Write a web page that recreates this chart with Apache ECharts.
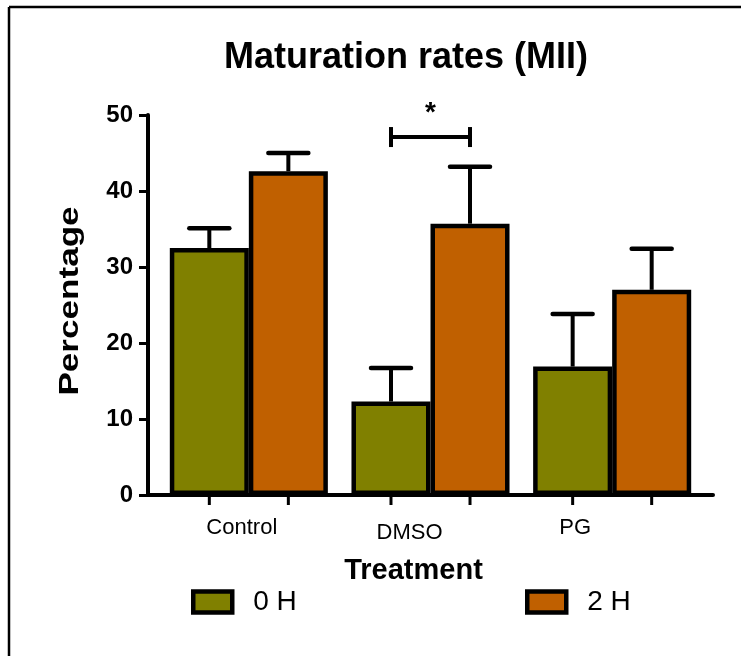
<!DOCTYPE html>
<html>
<head>
    <meta http-equiv="Content-Type" content="text/html; charset=UTF-8" />
    <title>Maturation rates</title>
    <script src="https://cdn.jsdelivr.net/npm/echarts@6/dist/echarts.min.js"></script>
    <style>
        html, body { margin: 0; padding: 0; background: #fff; }
        #main { width: 741px; height: 656px; }
    </style>
</head>
<body>
<div id="main"></div>
<script type="text/javascript">
    // data
    var categories = ['Control', 'DMSO', 'PG'];
    var mean0h = [32.5, 12.3, 16.9];
    var sem0h = [2.6, 4.4, 6.9];
    var mean2h = [42.6, 35.7, 27.0];
    var sem2h = [2.4, 7.5, 5.4];
    var yTicks = [0, 10, 20, 30, 40, 50];
    // significance bracket: category index, height, label
    var sigCategory = [1];
    var sigLevel = [47.1];
    var sigLabel = ['*'];

    var catGap = 0.13;
    var font = 'Liberation Sans, Arial, sans-serif';

    var errData = [];
    for (var i = 0; i < categories.length; i++) {
        errData.push([i, mean0h[i], sem0h[i], 0]);
        errData.push([i, mean2h[i], sem2h[i], 1]);
    }

    function barWidth(api) {
        return api.size([1, 0])[0] * (1 - catGap) / 2;
    }

    function renderErr(params, api) {
        var idx = api.value(0);
        var bw = barWidth(api);
        var c = api.coord([idx, api.value(1)]);
        var x = c[0] + (api.value(3) === 0 ? -bw / 2 : bw / 2);
        var yTop = api.coord([idx, api.value(1) + api.value(2)])[1];
        var y0 = api.coord([idx, 0])[1];
        var st = { stroke: '#000', lineWidth: 4 };
        return {
            type: 'group',
            children: [
                { type: 'line', shape: { x1: x, y1: c[1], x2: x, y2: yTop }, style: st },
                { type: 'line', shape: { x1: x - 20, y1: yTop, x2: x + 20, y2: yTop }, style: { stroke: '#000', lineWidth: 4.5, lineCap: 'round' } },
                { type: 'line', shape: { x1: x, y1: y0, x2: x, y2: y0 + 10 }, style: { stroke: '#000', lineWidth: 3 } }
            ]
        };
    }

    function renderSig(params, api) {
        var idx = api.value(0);
        var bw = barWidth(api);
        var c = api.coord([idx, api.value(1)]);
        var xa = c[0] - bw / 2, xb = c[0] + bw / 2;
        var st = { stroke: '#000', lineWidth: 4 };
        return {
            type: 'group',
            children: [
                { type: 'line', shape: { x1: xa, y1: c[1], x2: xb, y2: c[1] }, style: st },
                { type: 'line', shape: { x1: xa, y1: c[1] - 10, x2: xa, y2: c[1] + 10 }, style: st },
                { type: 'line', shape: { x1: xb, y1: c[1] - 10, x2: xb, y2: c[1] + 10 }, style: st },
                { type: 'text', x: c[0], y: c[1] - 24, style: {
                    text: sigLabel[params.dataIndex], fill: '#000', font: 'bold 28px ' + font,
                    textAlign: 'center', textVerticalAlign: 'middle' } }
            ]
        };
    }

    var myChart = echarts.init(document.getElementById('main'));

    var legendText = { fontFamily: font, fontSize: 28, color: '#000', padding: [0, 0, 0, 16] };

    var option = {
        backgroundColor: '#fff',
        animation: false,
        title: {
            text: 'Maturation rates (MII)',
            left: 401, top: 35,
            textAlign: 'center',
            textStyle: { fontFamily: font, fontWeight: 'bold', fontSize: 36, color: '#000' }
        },
        legend: [
            {
                data: ['0 H'], left: 191, top: 588, padding: 0, icon: 'rect',
                itemWidth: 39, itemHeight: 21,
                itemStyle: { borderColor: '#000', borderWidth: 4.5 },
                textStyle: legendText
            },
            {
                data: ['2 H'], left: 525, top: 588, padding: 0, icon: 'rect',
                itemWidth: 39, itemHeight: 21,
                itemStyle: { borderColor: '#000', borderWidth: 4.5 },
                textStyle: legendText
            }
        ],
        grid: [
            { left: 158, right: 38, top: 115, bottom: 161 },
            { left: 148, right: 28, top: 115, bottom: 161 }
        ],
        xAxis: [
            {
                type: 'category', gridIndex: 0,
                data: [
                    { value: categories[0], textStyle: { padding: [0, 14, 0, 0] } },
                    { value: categories[1], textStyle: { padding: [5, 42, 0, 0] } },
                    { value: categories[2], textStyle: { padding: [0, 74, 0, 0] } }
                ],
                axisLine: { show: false },
                axisTick: { show: false },
                axisLabel: { margin: 22, fontFamily: font, fontSize: 22, color: '#000' },
                name: 'Treatment', nameLocation: 'middle', nameGap: 61,
                nameTextStyle: { fontFamily: font, fontWeight: 'bold', fontSize: 29, color: '#000', padding: [0, 34, 0, 0] }
            },
            {
                type: 'value', gridIndex: 1, min: 0, max: 1,
                axisLine: { show: true, lineStyle: { color: '#000', width: 4 } },
                axisTick: { show: false }, axisLabel: { show: false }, splitLine: { show: false }
            }
        ],
        yAxis: [
            {
                type: 'value', gridIndex: 0, min: 0, max: 50, interval: 10, offset: 10,
                axisLine: { show: true, lineStyle: { color: '#000', width: 4 } },
                axisTick: { show: true, length: 9, lineStyle: { color: '#000', width: 3 } },
                axisLabel: {
                    margin: 15, fontFamily: font, fontWeight: 'bold', fontSize: 24, color: '#000',
                    padding: [4, 0, 0, 0],
                    formatter: function (v) { return yTicks.indexOf(v) >= 0 ? String(v) : ''; }
                },
                splitLine: { show: false }
            },
            { type: 'value', gridIndex: 1, show: false }
        ],
        graphic: [
            { type: 'line', shape: { x1: 9, y1: 7, x2: 741, y2: 7 }, style: { stroke: '#000', lineWidth: 2.5 } },
            { type: 'line', shape: { x1: 9, y1: 7, x2: 9, y2: 656 }, style: { stroke: '#000', lineWidth: 2.5 } },
            {
                type: 'text', x: 71, y: 301, rotation: Math.PI / 2, scaleX: 1.3,
                style: { text: 'Percentage', font: 'bold 27px ' + font, fill: '#000', textAlign: 'center', textVerticalAlign: 'middle' }
            }
        ],
        series: [
            {
                name: '0 H', type: 'bar', data: mean0h,
                barGap: 0, barCategoryGap: (catGap * 100) + '%',
                itemStyle: { color: '#808000', borderColor: '#000', borderWidth: 4.5 }
            },
            {
                name: '2 H', type: 'bar', data: mean2h,
                barGap: 0, barCategoryGap: (catGap * 100) + '%',
                itemStyle: { color: '#C06000', borderColor: '#000', borderWidth: 4.5 }
            },
            {
                type: 'custom', renderItem: renderErr, data: errData, z: 5,
                encode: { x: 0, y: 1 }, clip: false
            },
            {
                type: 'custom', renderItem: renderSig, z: 5,
                data: sigCategory.map(function (c, k) { return [c, sigLevel[k]]; }),
                encode: { x: 0, y: 1 }, clip: false
            }
        ]
    };

    myChart.setOption(option);
</script>
</body>
</html>
